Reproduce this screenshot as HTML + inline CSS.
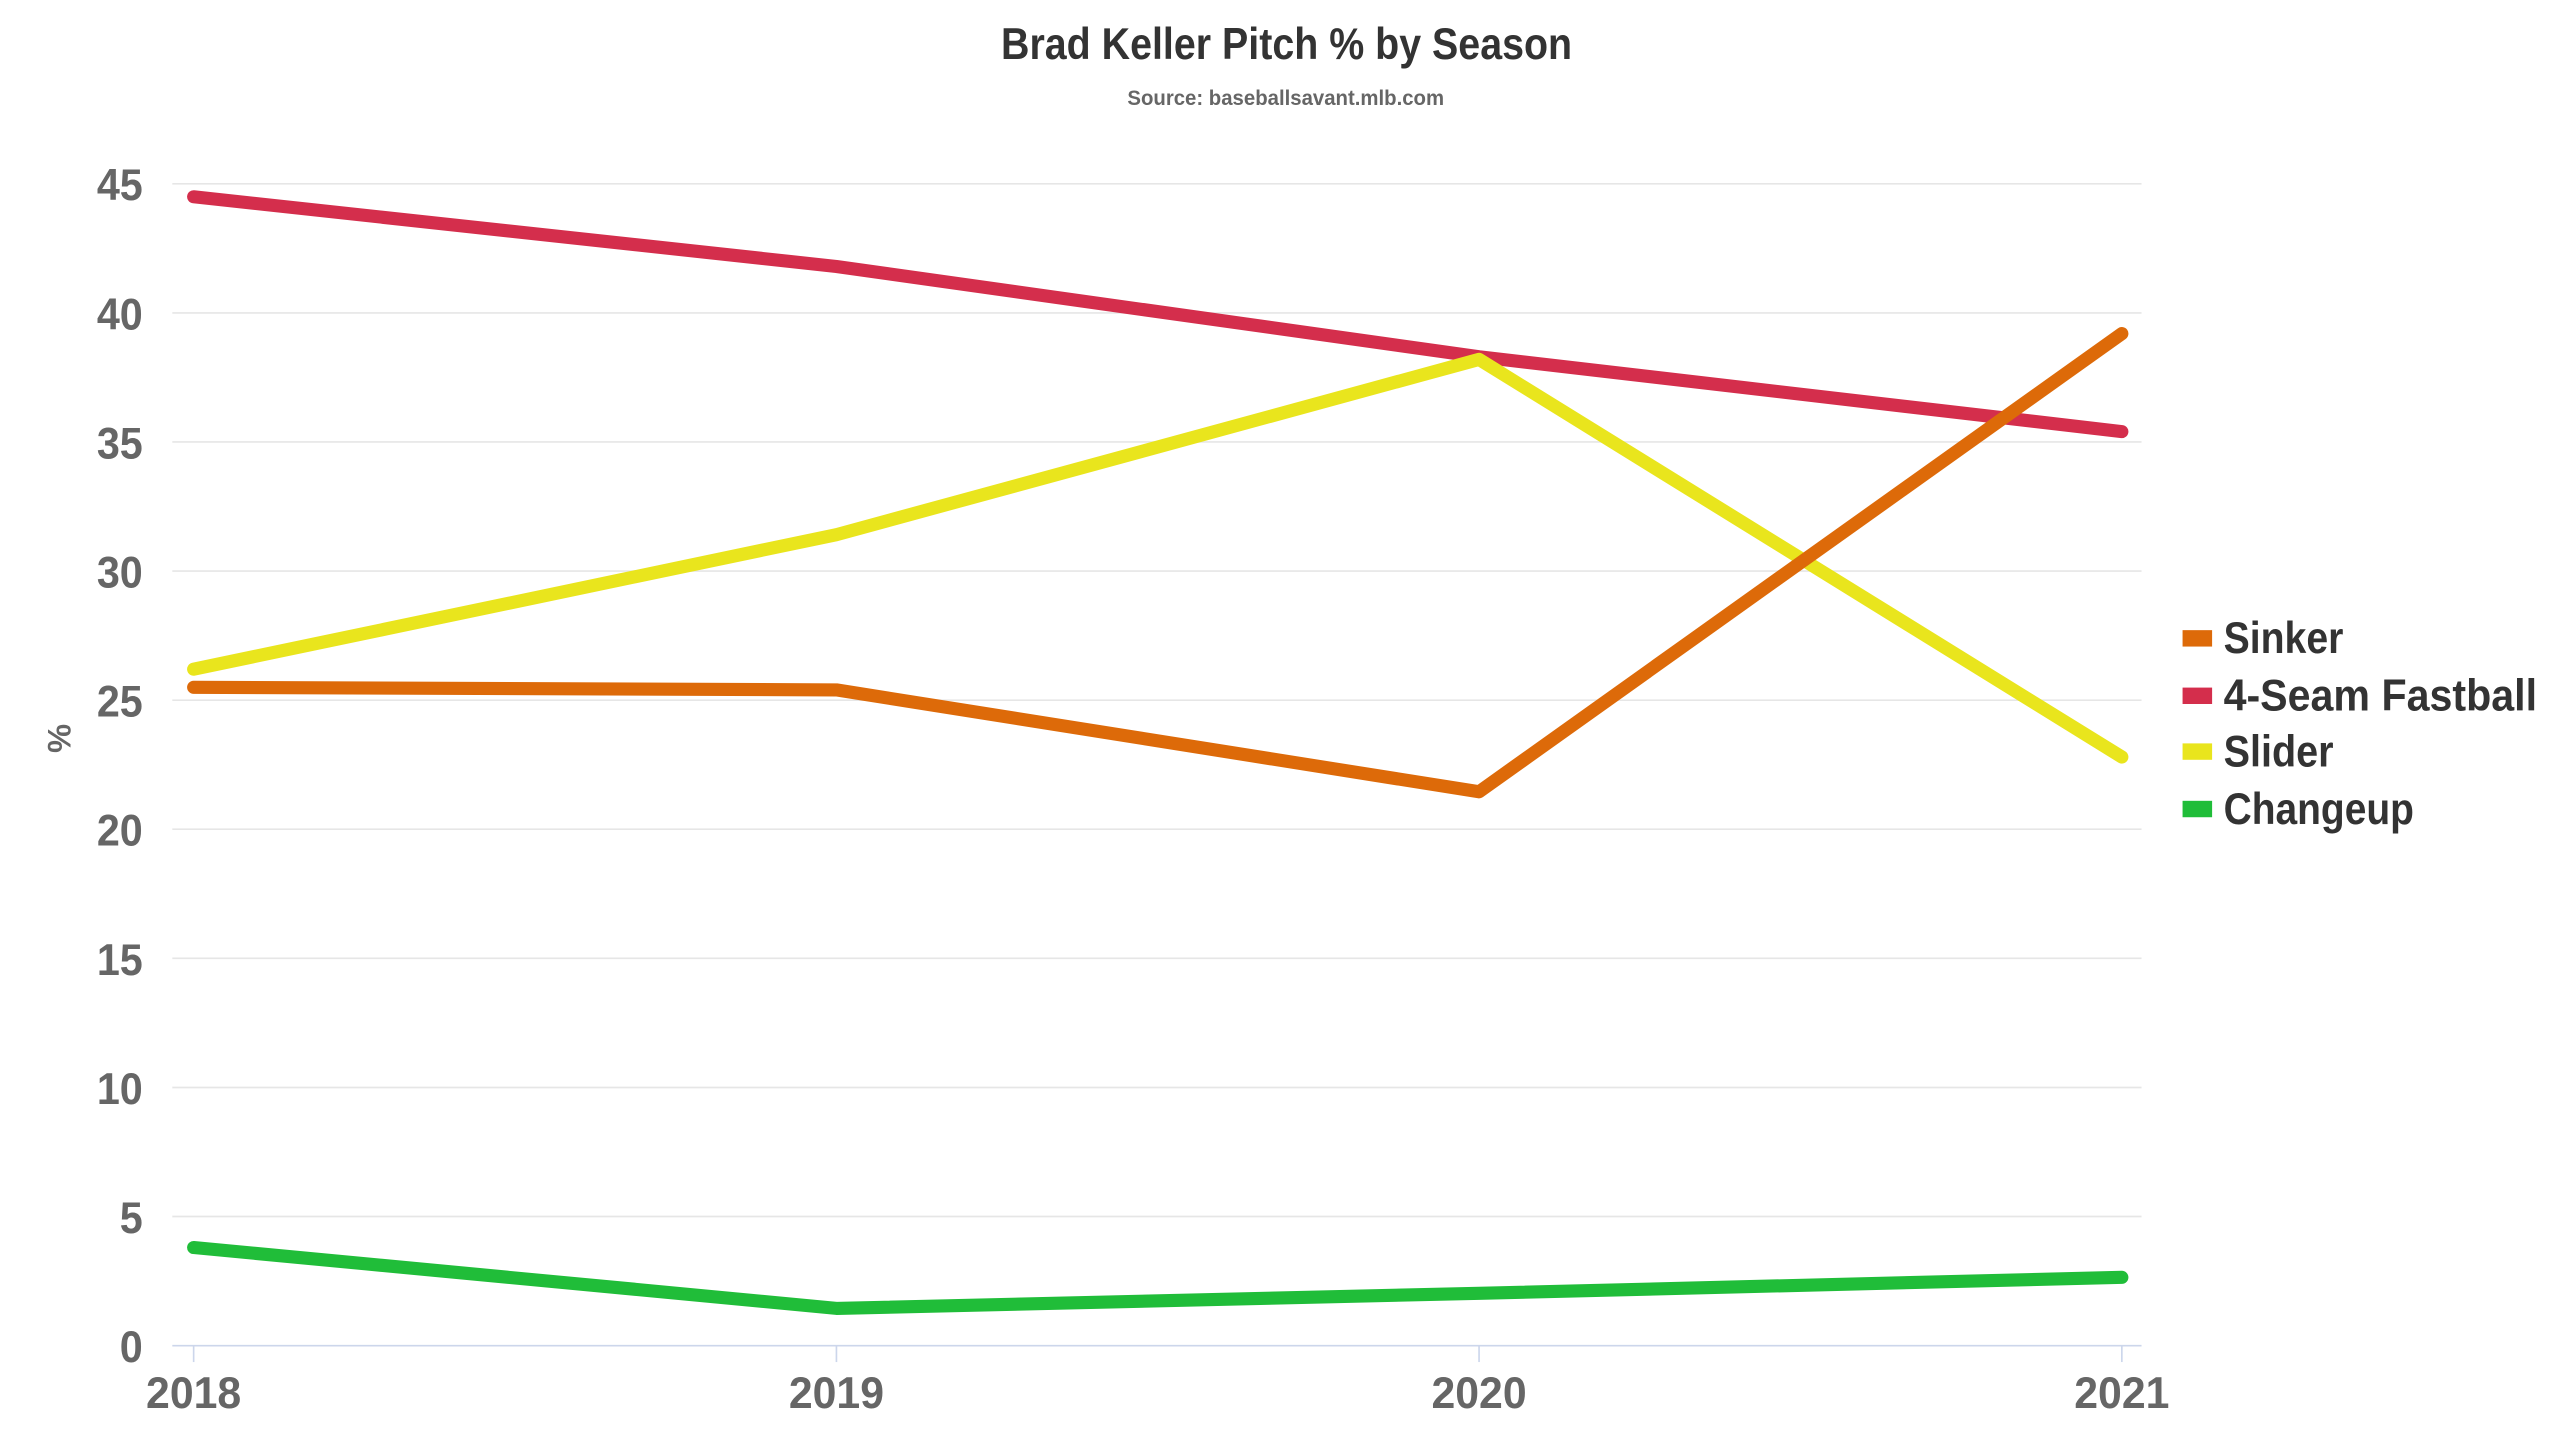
<!DOCTYPE html>
<html><head><meta charset="utf-8"><style>
html,body{margin:0;padding:0;background:#fff;}
svg{display:block;}
text{font-family:"Liberation Sans",sans-serif;font-weight:bold;}
</style></head><body>
<svg width="2560" height="1440" viewBox="0 0 1560 877.5" xmlns="http://www.w3.org/2000/svg">
<text x="610" y="36" font-size="27" fill="#333" textLength="348" lengthAdjust="spacingAndGlyphs">Brad Keller Pitch % by Season</text>
<text x="687" y="64" font-size="13" fill="#666" textLength="193" lengthAdjust="spacingAndGlyphs">Source: baseballsavant.mlb.com</text>
<g stroke="#e6e6e6" stroke-width="1">
<line x1="105" x2="1305" y1="112" y2="112"/><line x1="105" x2="1305" y1="190.7" y2="190.7"/>
<line x1="105" x2="1305" y1="269.3" y2="269.3"/><line x1="105" x2="1305" y1="348" y2="348"/>
<line x1="105" x2="1305" y1="426.7" y2="426.7"/><line x1="105" x2="1305" y1="505.3" y2="505.3"/>
<line x1="105" x2="1305" y1="584" y2="584"/><line x1="105" x2="1305" y1="662.7" y2="662.7"/>
<line x1="105" x2="1305" y1="741.3" y2="741.3"/>
</g>
<line x1="105" x2="1305" y1="820" y2="820" stroke="#ccd6eb" stroke-width="1"/>
<g stroke="#ccd6eb" stroke-width="1">
<line x1="118" x2="118" y1="820" y2="830"/><line x1="509.7" x2="509.7" y1="820" y2="830"/>
<line x1="901.3" x2="901.3" y1="820" y2="830"/><line x1="1293" x2="1293" y1="820" y2="830"/>
</g>
<g font-size="27" fill="#666" text-anchor="end">
<text x="87" y="122" textLength="28" lengthAdjust="spacingAndGlyphs">45</text>
<text x="87" y="200.7" textLength="28" lengthAdjust="spacingAndGlyphs">40</text>
<text x="87" y="279.3" textLength="28" lengthAdjust="spacingAndGlyphs">35</text>
<text x="87" y="358" textLength="28" lengthAdjust="spacingAndGlyphs">30</text>
<text x="87" y="436.7" textLength="28" lengthAdjust="spacingAndGlyphs">25</text>
<text x="87" y="515.3" textLength="28" lengthAdjust="spacingAndGlyphs">20</text>
<text x="87" y="594" textLength="28" lengthAdjust="spacingAndGlyphs">15</text>
<text x="87" y="672.7" textLength="28" lengthAdjust="spacingAndGlyphs">10</text>
<text x="87" y="751.3" textLength="14" lengthAdjust="spacingAndGlyphs">5</text>
<text x="87" y="830" textLength="14" lengthAdjust="spacingAndGlyphs">0</text>
</g>
<g font-size="27" fill="#666" text-anchor="middle">
<text x="118" y="858" textLength="58" lengthAdjust="spacingAndGlyphs">2018</text>
<text x="509.7" y="858" textLength="58" lengthAdjust="spacingAndGlyphs">2019</text>
<text x="901.3" y="858" textLength="58" lengthAdjust="spacingAndGlyphs">2020</text>
<text x="1293" y="858" textLength="58" lengthAdjust="spacingAndGlyphs">2021</text>
</g>
<text transform="translate(43,450) rotate(-90)" font-size="20" fill="#666" text-anchor="middle">%</text>
<g fill="none" stroke-width="8" stroke-linejoin="round" stroke-linecap="round">
<polyline stroke="#d42e4c" points="118,119.9 509.7,162.4 901.3,217.4 1293,263"/>
<polyline stroke="#e9e51d" points="118,407.8 509.7,325.8 901.3,219 1293,461.3"/>
<polyline stroke="#dd6a09" points="118,418.8 509.7,420.4 901.3,482.5 1293,203.3"/>
<polyline stroke="#20bd39" points="118,760.2 509.7,797.3 901.3,788.1 1293,778.4"/>
</g>
<g font-size="27" fill="#333">
<rect x="1330" y="384" width="18" height="10" fill="#dd6a09"/><text x="1355" y="398" textLength="73" lengthAdjust="spacingAndGlyphs">Sinker</text>
<rect x="1330" y="419" width="18" height="10" fill="#d42e4c"/><text x="1355" y="433" textLength="191" lengthAdjust="spacingAndGlyphs">4-Seam Fastball</text>
<rect x="1330" y="453" width="18" height="10" fill="#e9e51d"/><text x="1355" y="467" textLength="67" lengthAdjust="spacingAndGlyphs">Slider</text>
<rect x="1330" y="488" width="18" height="10" fill="#20bd39"/><text x="1355" y="502" textLength="116" lengthAdjust="spacingAndGlyphs">Changeup</text>
</g>
</svg>
</body></html>
